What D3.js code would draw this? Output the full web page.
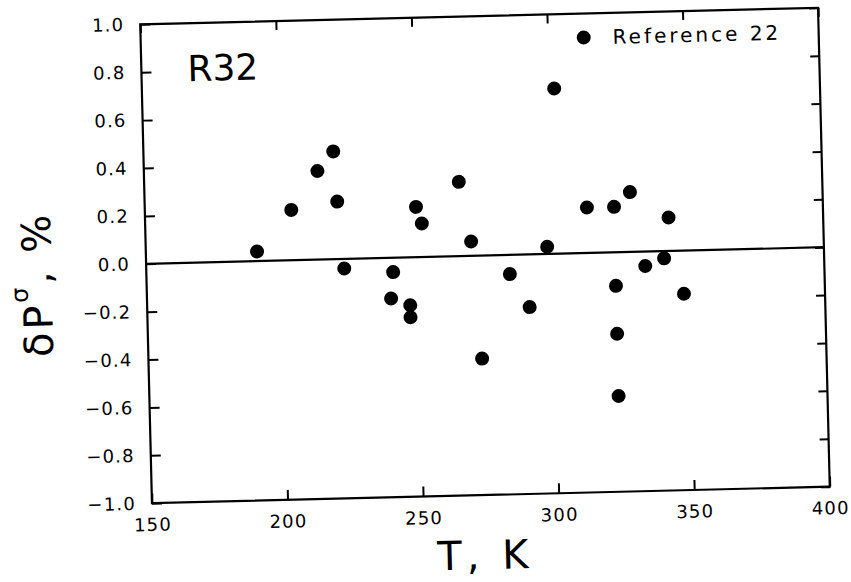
<!DOCTYPE html>
<html>
<head>
<meta charset="utf-8">
<script src="https://cdn.jsdelivr.net/npm/d3@7"></script>
<style>
  html, body { margin: 0; padding: 0; background: #fff; }
  svg { display: block; }
  text { font-family: "DejaVu Sans", sans-serif; fill: #000; }
</style>
</head>
<body>
<svg id="chart" width="851" height="582"></svg>
<script>
// ---- data ----
const temperatureK = [191, 204, 214, 220, 221, 223, 241, 240, 247, 247, 250, 252, 266, 270, 273,
                      284, 291, 298, 302, 313, 323, 323, 323, 323, 329, 334, 341, 343, 348];
const deviationPct = [0.04, 0.21, 0.37, 0.45, 0.24, -0.04, -0.06, -0.17, -0.20, -0.25, 0.21, 0.14, 0.31, 0.06, -0.43,
                      -0.08, -0.22, 0.03, 0.69, 0.19, 0.19, -0.14, -0.34, -0.60, 0.25, -0.06, -0.03, 0.14, -0.18];
const xTicks = [150, 200, 250, 300, 350, 400];
const yTicks = [-1.0, -0.8, -0.6, -0.4, -0.2, 0.0, 0.2, 0.4, 0.6, 0.8, 1.0];
const xDomain = [150, 400];
const yDomain = [-1, 1];
const fluidLabel = "R32";
const legendLabel = "Reference 22";

// ---- layout ----
const svg = d3.select("#chart");
const mLeft = 146, mTop = 16, plotW = 678, plotH = 479;
const cx = mLeft + plotW / 2, cy = mTop + plotH / 2;

const g = svg.append("g").attr("transform", `rotate(-1.4, ${cx}, ${cy})`);

const x = d3.scaleLinear().domain(xDomain).range([mLeft, mLeft + plotW]);
const y = d3.scaleLinear().domain(yDomain).range([mTop + plotH, mTop]);

const fmt = d3.format(".1f");

// left axis with labels
const ya = g.append("g").attr("transform", `translate(${mLeft},0)`)
  .call(d3.axisLeft(y).tickValues(yTicks).tickSizeInner(-10).tickSizeOuter(0).tickPadding(16)
    .tickFormat(d => fmt(d)));
// right axis
const yr = g.append("g").attr("transform", `translate(${mLeft + plotW},0)`)
  .call(d3.axisRight(y).tickValues(yTicks).tickSizeInner(-9).tickSizeOuter(0).tickFormat(""));
// bottom axis with labels
const xa = g.append("g").attr("transform", `translate(0,${mTop + plotH})`)
  .call(d3.axisBottom(x).tickValues(xTicks).tickSizeInner(-10).tickSizeOuter(0).tickPadding(15));
// top axis
const xt = g.append("g").attr("transform", `translate(0,${mTop})`)
  .call(d3.axisTop(x).tickValues(xTicks).tickSizeInner(-9).tickSizeOuter(0).tickFormat(""));

[ya, yr, xa, xt].forEach(a => {
  a.select(".domain").remove();
  a.selectAll(".tick line").attr("stroke", "#000").attr("stroke-width", 2);
  a.selectAll(".tick text").attr("font-size", 18).attr("letter-spacing", 1.2)
    .attr("font-family", "DejaVu Sans, sans-serif").attr("fill", "#000");
});

// frame
g.append("rect").attr("x", mLeft).attr("y", mTop).attr("width", plotW).attr("height", plotH)
  .attr("fill", "none").attr("stroke", "#000").attr("stroke-width", 2.2);

// zero line
g.append("line")
  .attr("x1", x(xDomain[0])).attr("x2", x(xDomain[1]))
  .attr("y1", y(0)).attr("y2", y(0))
  .attr("stroke", "#000").attr("stroke-width", 2.2);

// points
g.append("g").selectAll("ellipse")
  .data(temperatureK.map((t, i) => ({ t, v: deviationPct[i] })))
  .join("ellipse")
  .attr("cx", d => x(d.t)).attr("cy", d => y(d.v))
  .attr("rx", 7).attr("ry", 7).attr("fill", "#000");

// R32 label
g.append("text").attr("x", mLeft + 46).attr("y", mTop + 58)
  .attr("font-size", 36).text(fluidLabel);

// legend
g.append("ellipse").attr("cx", mLeft + 443).attr("cy", mTop + 24).attr("rx", 7).attr("ry", 7).attr("fill", "#000");
g.append("text").attr("x", mLeft + 472).attr("y", mTop + 31)
  .attr("font-size", 20).attr("letter-spacing", 3).text(legendLabel);

// x title
g.append("text").attr("x", cx - 7).attr("y", mTop + plotH + 74)
  .attr("text-anchor", "middle").attr("font-size", 40).attr("letter-spacing", 5)
  .text("T, K");

// y title
const yt = g.append("text")
  .attr("transform", `translate(${mLeft - 95},${cy + 18}) rotate(-90)`)
  .attr("text-anchor", "middle").attr("font-size", 40).attr("letter-spacing", 3);
yt.append("tspan").text("δP");
yt.append("tspan").attr("font-size", 24).attr("dy", -24).text("σ");
yt.append("tspan").attr("dy", 24).text(", %");
</script>
</body>
</html>
